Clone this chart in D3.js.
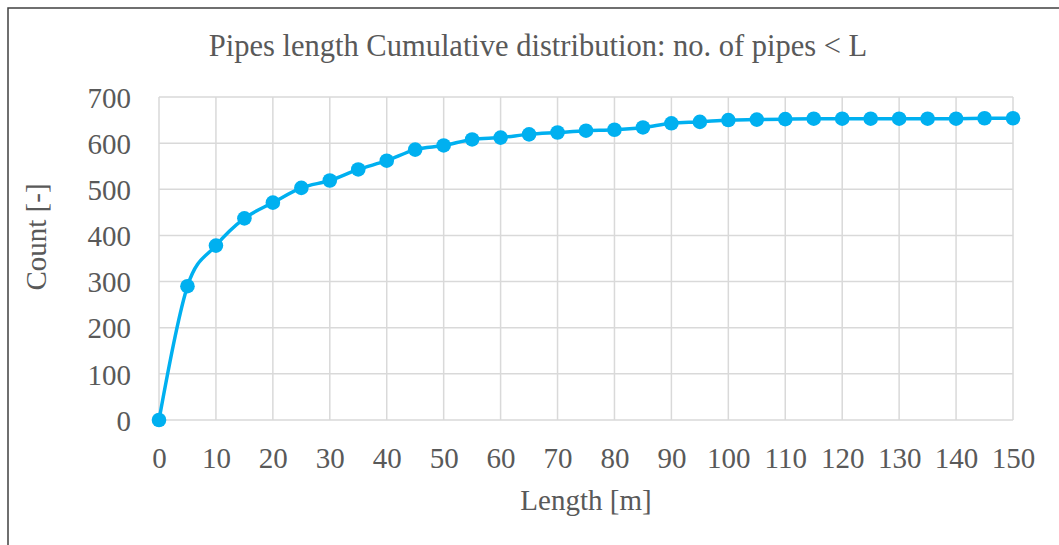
<!DOCTYPE html>
<html>
<head>
<meta charset="utf-8">
<script src="https://cdn.jsdelivr.net/npm/d3@7"></script>
<style>
  html, body { margin: 0; padding: 0; background: #fff; }
  svg { display: block; }
  text { font-family: "Liberation Serif", "DejaVu Serif", serif; fill: #595959; }
</style>
</head>
<body>
<svg id="chart" width="1059" height="545"></svg>
<script>
// ---- data ----
const lengths = [0,5,10,15,20,25,30,35,40,45,50,55,60,65,70,75,80,85,90,95,100,105,110,115,120,125,130,135,140,145,150];
const counts  = [0,290,378,437,471,503,519,543,562,586,595,608,612,619,623,627,629,634,643,646,650,651,652,653,653,653,653,653,653,654,654];
const xTicks = [0,10,20,30,40,50,60,70,80,90,100,110,120,130,140,150];
const yTicks = [0,100,200,300,400,500,600,700];
const titleText = "Pipes length Cumulative distribution: no. of pipes < L";
const xTitle = "Length [m]";
const yTitle = "Count [-]";

const svg = d3.select("#chart");
const W = 1059, H = 545;
const m = {left: 159, right: 1059 - 1013, top: 97, bottom: 545 - 420};

svg.append("rect").attr("x", 8).attr("y", 8).attr("width", 1200).attr("height", 800)
  .attr("fill", "#fff").attr("stroke", "#404040").attr("stroke-width", 1.5);

const x = d3.scaleLinear().domain([0, 150]).range([m.left, W - m.right]);
const y = d3.scaleLinear().domain([0, 700]).range([H - m.bottom, m.top]);

// gridlines
const g = svg.append("g");
g.selectAll(".vg").data(xTicks).join("line")
  .attr("x1", d => x(d)).attr("x2", d => x(d))
  .attr("y1", y(0)).attr("y2", y(700))
  .attr("stroke", "#d9d9d9").attr("stroke-width", 1.5);
g.selectAll(".hg").data(yTicks).join("line")
  .attr("x1", x(0)).attr("x2", x(150))
  .attr("y1", d => y(d)).attr("y2", d => y(d))
  .attr("stroke", "#d9d9d9").attr("stroke-width", 1.5);

// axes (labels only)
const xAxis = d3.axisBottom(x).tickValues(xTicks).tickSize(0).tickPadding(28);
const yAxis = d3.axisLeft(y).tickValues(yTicks).tickSize(0).tickPadding(28);
const gx = svg.append("g").attr("transform", `translate(0,${y(0)})`).call(xAxis);
const gy = svg.append("g").attr("transform", `translate(${x(0)},0)`).call(yAxis);
[gx, gy].forEach(a => {
  a.select(".domain").remove();
  a.selectAll("text").attr("font-family", "Liberation Serif").attr("font-size", 29).attr("fill", "#595959");
});
gx.selectAll("text").attr("dy", 0).attr("y", 48);
gy.selectAll("text").attr("dy", "0.35em").attr("x", -28);

// line
const line = d3.line().x((d, i) => x(lengths[i])).y(d => y(d)).curve(d3.curveCatmullRom.alpha(0));
svg.append("path").datum(counts).attr("d", line)
  .attr("fill", "none").attr("stroke", "#00B0F0").attr("stroke-width", 3.5);
svg.selectAll(".pt").data(counts).join("circle")
  .attr("cx", (d, i) => x(lengths[i])).attr("cy", d => y(d)).attr("r", 7.3)
  .attr("fill", "#00B0F0");

// titles
svg.append("text").attr("x", 538).attr("y", 56).attr("text-anchor", "middle")
  .attr("font-size", 30.5).text(titleText);
svg.append("text").attr("x", 586).attr("y", 510).attr("text-anchor", "middle")
  .attr("font-size", 29).text(xTitle);
svg.append("text").attr("transform", "translate(46,237) rotate(-90)").attr("text-anchor", "middle")
  .attr("font-size", 29).text(yTitle);
</script>
</body>
</html>
